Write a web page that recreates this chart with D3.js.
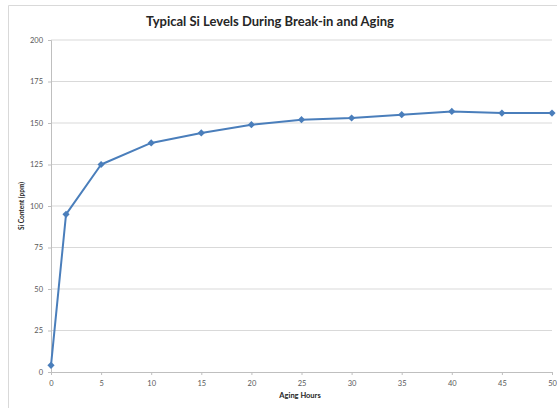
<!DOCTYPE html>
<html><head><meta charset="utf-8">
<script src="https://cdn.jsdelivr.net/npm/d3@7"></script>
<style>body{margin:0;background:#fff}svg{display:block}</style>
</head><body>
<script>
const hours = [0, 1.5, 5, 10, 15, 20, 25, 30, 35, 40, 45, 50];
const siPpm = [4, 95, 125, 138, 144, 149, 152, 153, 155, 157, 156, 156];
const xTicks = [0, 5, 10, 15, 20, 25, 30, 35, 40, 45, 50];
const yTicks = [0, 25, 50, 75, 100, 125, 150, 175, 200];
const title = "Typical Si Levels During Break-in and Aging";
const xTitle = "Aging Hours";
const yTitle = "Si Content (ppm)";

const W = 557, H = 408;
const svg = d3.select("body").append("svg").attr("width", W).attr("height", H);
// chart frame
svg.append("path").attr("d", "M8.5,408 V5.5 H557").attr("fill","none").attr("stroke","#d9d9d9");

const x = d3.scaleLinear().domain([0, 50]).range([51, 552]);
const y = d3.scaleLinear().domain([0, 200]).range([372, 40]);

// gridlines
svg.append("g").selectAll("line").data(yTicks.filter(d => d > 0)).join("line")
  .attr("x1", x(0)).attr("x2", x(50)).attr("y1", d => y(d)).attr("y2", d => y(d))
  .attr("stroke", "#d9d9d9").attr("stroke-width", 1);

const lblFont = "Lato, Liberation Sans, Arial, sans-serif";
// y axis
const yAxis = svg.append("g").attr("transform", `translate(${x(0)},0)`)
  .call(d3.axisLeft(y).tickValues(yTicks).tickSize(3).tickPadding(5));
yAxis.select(".domain").attr("stroke", "#bfbfbf");
yAxis.selectAll(".tick line").attr("stroke", "#bfbfbf");
yAxis.selectAll("text").attr("font-family", lblFont).attr("font-size", 7.5).attr("fill", "#595959");

// x axis
const xAxis = svg.append("g").attr("transform", `translate(0,${y(0)})`)
  .call(d3.axisBottom(x).tickValues(xTicks).tickSize(3).tickPadding(6));
xAxis.select(".domain").attr("stroke", "#bfbfbf");
xAxis.selectAll(".tick line").attr("stroke", "#bfbfbf");
xAxis.selectAll("text").attr("font-family", lblFont).attr("font-size", 7.5).attr("fill", "#595959");

// line
const line = d3.line().x((d, i) => x(hours[i])).y(d => y(d));
svg.append("path").datum(siPpm).attr("d", line)
  .attr("fill", "none").attr("stroke", "#4a7ebb").attr("stroke-width", 2).attr("stroke-linejoin","round");

svg.append("g").selectAll("path").data(siPpm).join("path")
  .attr("d", "M0,-3.6L3.6,0L0,3.6L-3.6,0Z")
  .attr("transform", (d, i) => `translate(${x(hours[i])},${y(d)})`)
  .attr("fill", "#4a7ebb");

// titles
svg.append("text").attr("x", 270).attr("y", 26).attr("text-anchor", "middle")
  .attr("font-family", "Lato, Open Sans, Liberation Sans, sans-serif").attr("font-weight", "bold")
  .attr("font-size", 13).attr("fill", "#262626").text(title);
svg.append("text").attr("x", 300).attr("y", 398).attr("text-anchor", "middle")
  .attr("font-family", lblFont).attr("font-weight", "bold")
  .attr("font-size", 7.5).attr("fill", "#262626").text(xTitle);
svg.append("text").attr("transform", "translate(24,206) rotate(-90)").attr("text-anchor", "middle")
  .attr("font-family", lblFont).attr("font-weight", "bold")
  .attr("font-size", 6.5).attr("fill", "#262626").text(yTitle);
</script>
</body></html>
